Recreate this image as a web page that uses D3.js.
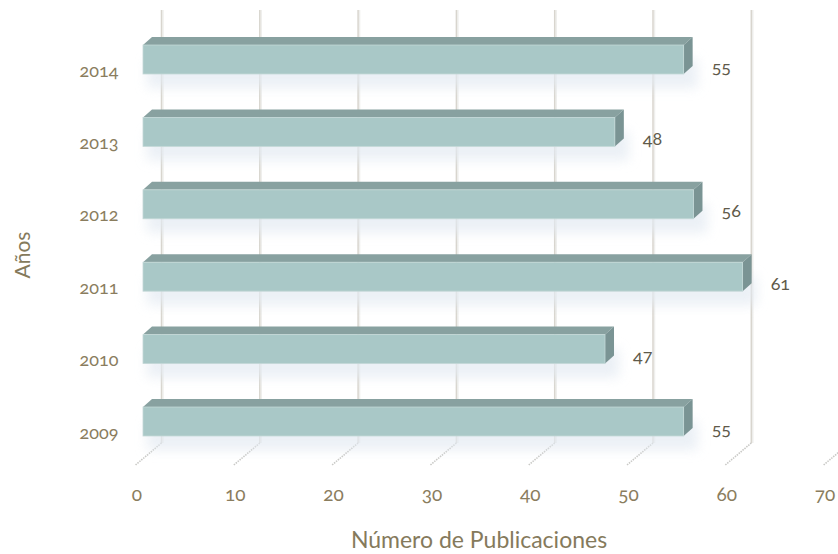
<!DOCTYPE html>
<html>
<head>
<meta charset="utf-8">
<script src="https://cdn.jsdelivr.net/npm/d3@7"></script>
<style>
  body { margin: 0; background: #fff; }
  svg text { font-family: Lato, "Open Sans", sans-serif; font-variant-numeric: oldstyle-nums; }
</style>
</head>
<body>
<svg id="chart" width="838" height="554"></svg>
<script>
const years = ['2014', '2013', '2012', '2011', '2010', '2009'];
const publications = [55, 48, 56, 61, 47, 55];
const xTicks = [0, 10, 20, 30, 40, 50, 60, 70];

const svg = d3.select('#chart');
const defs = svg.append('defs');

defs.append('filter').attr('id', 'soft')
    .attr('x', '-20%').attr('y', '-50%').attr('width', '140%').attr('height', '200%')
  .append('feGaussianBlur').attr('stdDeviation', 6);

// depth offset of the 3d bars
const dx = 9, dy = -8;

// front scale for bars, back wall scale for grid, tick label scale
const x = d3.scaleLinear().domain([0, 70]).range([143, 143 + 70 * 9.83]);
const xGrid = (v) => x(v) + 18.5;
const xLab = (v) => x(v) - 6;

const y = d3.scaleBand().domain(years).range([23.3, 457.7])
    .paddingInner(0.6).paddingOuter(0.3);

const data = years.map((yr, i) => ({year: yr, value: publications[i]}));

// grid lines on the back wall
const grid = svg.append('g');
grid.selectAll('.gshadow').data(xTicks.filter((t) => t < 70)).enter().append('line')
    .attr('x1', (d) => xGrid(d) + 1.5).attr('x2', (d) => xGrid(d) + 1.5)
    .attr('y1', 10).attr('y2', 443)
    .attr('stroke', '#efefed').attr('stroke-width', 1.5);
grid.selectAll('.gline').data(xTicks).enter().append('line')
    .attr('x1', (d) => xGrid(d)).attr('x2', (d) => xGrid(d))
    .attr('y1', 10).attr('y2', 443)
    .attr('stroke', '#d8d5ce').attr('stroke-width', 1.5);

// floor lines
grid.selectAll('.floor').data(xTicks).enter().append('line')
    .attr('x1', (d) => xGrid(d)).attr('y1', 443)
    .attr('x2', (d) => xGrid(d) - 26).attr('y2', 465)
    .attr('stroke', '#c9c9c6').attr('stroke-width', 1.6)
    .attr('stroke-dasharray', '1.5,1');

// soft shadows under the bars
svg.append('g').selectAll('rect').data(data).enter().append('rect')
    .attr('x', x(0) + 4)
    .attr('y', (d) => y(d.year) + 14)
    .attr('width', (d) => x(d.value) - x(0) + 10)
    .attr('height', y.bandwidth())
    .attr('fill', '#e3eaf2')
    .attr('opacity', 0.7)
    .attr('filter', 'url(#soft)');

const bars = svg.append('g').selectAll('g').data(data).enter().append('g');

// top face
bars.append('path')
    .attr('d', (d) => {
        const x0 = x(0), x1 = x(d.value), yt = y(d.year);
        return `M${x0},${yt}L${x0 + dx},${yt + dy}L${x1 + dx},${yt + dy}L${x1},${yt}Z`;
    })
    .attr('fill', '#88a1a0');

// side face
bars.append('path')
    .attr('d', (d) => {
        const x1 = x(d.value), yt = y(d.year), yb = yt + y.bandwidth();
        return `M${x1},${yt}L${x1 + dx},${yt + dy}L${x1 + dx},${yb + dy}L${x1},${yb}Z`;
    })
    .attr('fill', '#7a9494');

// front face
bars.append('rect')
    .attr('x', x(0))
    .attr('y', (d) => y(d.year))
    .attr('width', (d) => x(d.value) - x(0))
    .attr('height', y.bandwidth())
    .attr('fill', '#a9c8c7')
    .attr('stroke', '#c3d8d7')
    .attr('stroke-width', 0.8);

// value labels
svg.append('g').selectAll('text').data(data).enter().append('text')
    .attr('x', (d) => x(d.value) + 28)
    .attr('y', (d) => y(d.year) + y.bandwidth() / 2 + 13)
    .attr('font-size', 18)
    .attr('fill', '#5f5a4a')
    .text((d) => d.value);

// year labels
svg.append('g').selectAll('text').data(years).enter().append('text')
    .attr('x', 99)
    .attr('y', (d) => y(d) + y.bandwidth() / 2 + 17)
    .attr('text-anchor', 'middle')
    .attr('font-size', 18)
    .attr('fill', '#8a7d5e')
    .text((d) => d);

// x tick labels
svg.append('g').selectAll('text').data(xTicks).enter().append('text')
    .attr('x', (d) => xLab(d))
    .attr('y', 501)
    .attr('text-anchor', 'middle')
    .attr('font-size', 19)
    .attr('fill', '#8a7d5e')
    .text((d) => d);

// axis titles
svg.append('text')
    .attr('x', 479).attr('y', 548)
    .attr('text-anchor', 'middle')
    .attr('font-size', 23)
    .attr('fill', '#857a5c')
    .text('Número de Publicaciones');

svg.append('text')
    .attr('transform', 'translate(30,255) rotate(-90)')
    .attr('text-anchor', 'middle')
    .attr('font-size', 21)
    .attr('fill', '#857a5c')
    .text('Años');
</script>
</body>
</html>
